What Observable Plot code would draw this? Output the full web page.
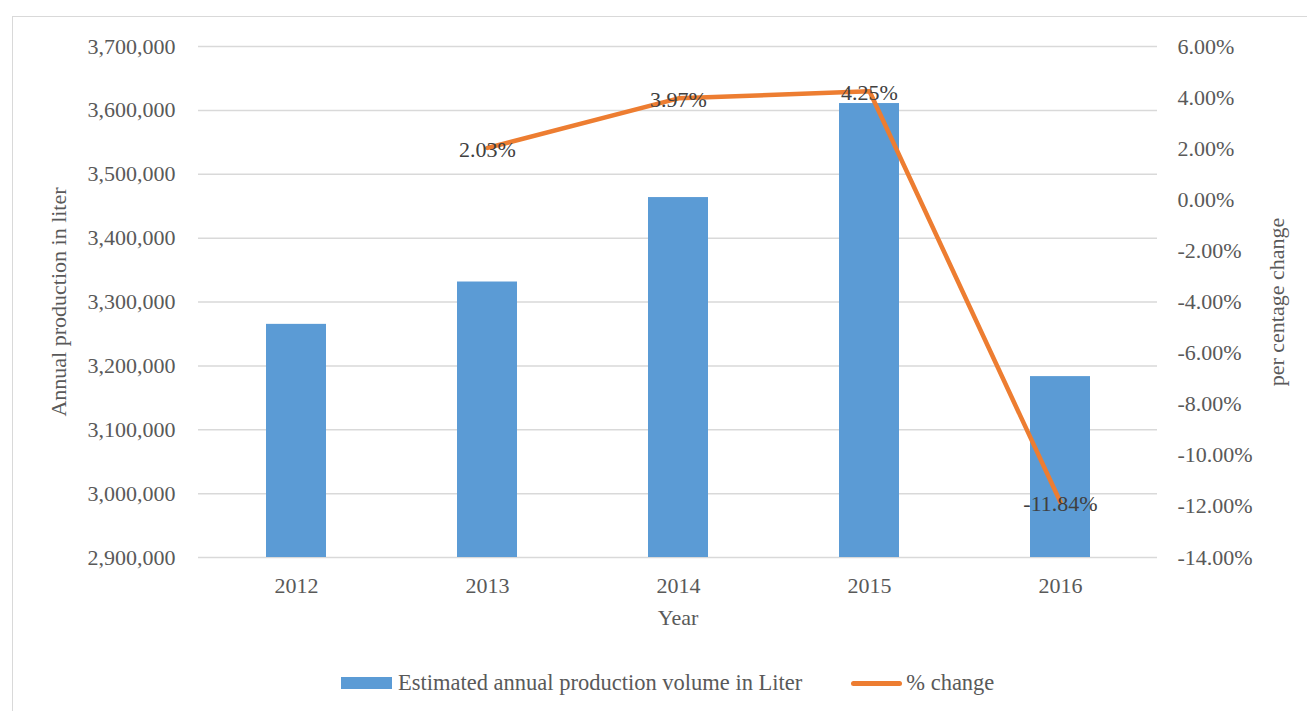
<!DOCTYPE html>
<html>
<head>
<meta charset="utf-8">
<script src="https://cdn.jsdelivr.net/npm/d3@7"></script>
<script src="https://cdn.jsdelivr.net/npm/@observablehq/plot@0.6"></script>
<style>
  html, body { margin: 0; padding: 0; background: #fff; overflow: hidden; }
  body { width: 1307px; height: 711px; position: relative; font-family: "Liberation Serif", "DejaVu Serif", serif; }
  #frame { position: absolute; left: 12px; top: 16px; width: 1310px; height: 720px; border: 1.5px solid #d9d9d9; box-sizing: border-box; pointer-events: none; }
  #chart { position: absolute; left: 0; top: 0; }
  #legend { position: absolute; left: 341px; top: 671px; height: 24px; display: flex; align-items: center; font-size: 22.5px; color: #595959; white-space: nowrap; }
  .sw { width: 51px; height: 12px; background: #5B9BD5; margin-right: 6px; }
  .ln { width: 51px; height: 5px; background: #ED7D31; border-radius: 3px; margin-left: 49px; margin-right: 4px; }
</style>
</head>
<body>
<div id="chart"></div>
<div id="legend">
  <div class="sw"></div><span>Estimated annual production volume in Liter</span>
  <div class="ln"></div><span>% change</span>
</div>
<div id="frame"></div>
<script>
// Data
const years = ["2012", "2013", "2014", "2015", "2016"];
const production = [3265000, 3331300, 3463500, 3610700, 3183200];
const pctYears = ["2013", "2014", "2015", "2016"];
const pctChange = [2.03, 3.97, 4.25, -11.84];
const pctLabels = ["2.03%", "3.97%", "4.25%", "-11.84%"];
const leftTicks = [2900000, 3000000, 3100000, 3200000, 3300000, 3400000, 3500000, 3600000, 3700000];
const rightTicks = [-14, -12, -10, -8, -6, -4, -2, 0, 2, 4, 6];

// secondary axis mapping onto primary domain
const yMin = 2900000, yMax = 3700000, pMin = -14, pMax = 6;
const toY = p => yMin + (p - pMin) / (pMax - pMin) * (yMax - yMin);
const fromY = v => pMin + (v - yMin) / (yMax - yMin) * (pMax - pMin);

const bars = years.map((y, i) => ({year: y, value: production[i]}));
const line = pctYears.map((y, i) => ({year: y, pct: pctChange[i], v: toY(pctChange[i]), label: pctLabels[i]}));

const fmt = d3.format(",");
const textColor = "#595959";
const fs = 22;

const chart = Plot.plot({
  width: 1307,
  height: 660,
  marginTop: 46,
  marginBottom: 103,
  marginLeft: 198,
  marginRight: 150,
  style: { fontFamily: "'Liberation Serif', 'DejaVu Serif', serif", fontSize: fs + "px", color: textColor, background: "transparent" },
  x: { type: "band", domain: years, paddingInner: 0.687, paddingOuter: 0.3435 },
  y: { domain: [yMin, yMax] },
  marks: [
    Plot.ruleY(leftTicks, { stroke: "#d9d9d9", strokeWidth: 1.5 }),
    Plot.barY(bars, { x: "year", y1: yMin, y2: "value", fill: "#5B9BD5" }),
    Plot.axisX({ tickSize: 0, tickPadding: 20, label: null, fill: textColor, fontSize: fs }),
    Plot.axisY({ ticks: leftTicks, tickFormat: fmt, tickSize: 0, tickPadding: 23, label: null, fill: textColor, fontSize: fs }),
    Plot.axisY({ anchor: "right", ticks: rightTicks.map(toY), tickFormat: v => fromY(v).toFixed(2) + "%", tickSize: 0, tickPadding: 20, label: null, fill: textColor, fontSize: fs }),
    Plot.line(line, { x: "year", y: "v", stroke: "#ED7D31", strokeWidth: 4.5, strokeLinejoin: "round", strokeLinecap: "round" }),
    Plot.text(line, { x: "year", y: "v", text: "label", fill: "#404040", fontSize: fs, dy: 2 }),
    Plot.text(["Year"], { frameAnchor: "bottom", dy: 67, fill: textColor, fontSize: fs }),
    Plot.text(["Annual production in liter"], { frameAnchor: "left", textAnchor: "middle", dx: -140, rotate: -90, fill: textColor, fontSize: fs }),
    Plot.text(["per centage change"], { frameAnchor: "right", textAnchor: "middle", dx: 119, rotate: -90, fill: textColor, fontSize: fs })
  ]
});
document.getElementById("chart").appendChild(chart);
</script>
</body>
</html>
